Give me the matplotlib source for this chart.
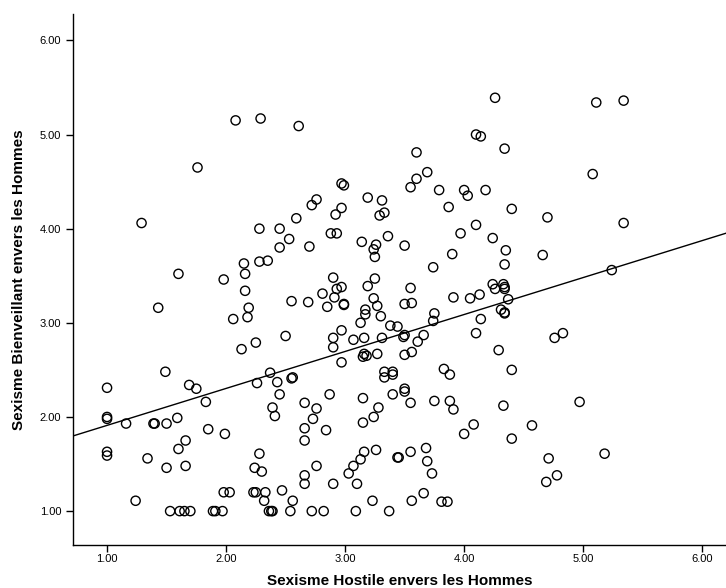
import numpy as np
import matplotlib
matplotlib.use("Agg")
import matplotlib.pyplot as plt

plt.rcParams['font.family'] = ['Liberation Sans', 'DejaVu Sans']

hostile = [
    4.26, 2.08, 2.29, 2.61, 5.11, 5.34, 1.76, 1.29, 2.97, 2.99,
    2.76, 2.72, 3.19, 3.31, 2.97, 2.92, 3.33, 3.29, 2.59, 2.28,
    2.45, 2.53, 2.88, 2.93, 3.36, 3.14, 3.26, 2.45, 2.70, 3.24,
    4.10, 4.14, 4.34, 3.60, 3.69, 3.60, 3.55, 3.79, 4.00, 4.03,
    4.18, 3.87, 4.40, 4.70, 4.10, 3.97, 4.24, 3.50, 4.35, 5.08,
    5.34, 1.60, 1.98, 2.15, 2.16, 2.16, 1.43, 2.06, 2.13, 1.49,
    1.00, 1.69, 1.75, 3.25, 2.28, 2.35, 2.90, 3.25, 2.97, 2.93,
    3.19, 2.81, 2.91, 3.24, 2.55, 2.69, 2.99, 2.99, 2.85, 3.27,
    3.17, 3.17, 2.19, 2.18, 3.30, 3.13, 3.38, 3.44, 2.97, 2.90,
    3.07, 3.16, 3.31, 2.50, 2.25, 2.90, 3.16, 3.18, 3.15, 3.27,
    2.97, 2.37, 2.26, 2.43, 2.55, 2.56, 3.33, 3.33, 3.40, 3.40,
    3.90, 3.74, 4.34, 4.66, 3.55, 3.50, 3.56, 3.91, 4.05, 4.13,
    4.24, 4.26, 4.33, 4.34, 4.34, 4.37, 4.31, 4.34, 4.34, 3.75,
    3.74, 4.14, 3.50, 3.49, 3.66, 3.61, 4.10, 4.76, 3.56, 3.50,
    4.29, 3.83, 3.88, 4.40, 3.50, 5.24, 4.83, 1.83, 1.00, 1.00,
    1.16, 1.39, 1.40, 1.50, 1.59, 1.85, 1.99, 1.66, 1.60, 1.00,
    1.00, 1.34, 1.50, 1.66, 1.98, 2.03, 1.24, 1.53, 1.61, 1.65,
    1.70, 1.89, 1.91, 1.97, 2.45, 2.87, 2.39, 2.41, 2.66, 2.76,
    2.73, 2.66, 2.84, 2.66, 3.15, 3.28, 3.24, 3.15, 3.40, 2.28,
    2.24, 2.30, 2.76, 2.66, 2.66, 2.90, 3.16, 3.26, 3.13, 3.07,
    3.03, 3.10, 3.44, 2.23, 2.25, 2.33, 2.47, 2.32, 2.56, 2.36,
    2.38, 2.39, 2.54, 2.72, 2.82, 3.09, 3.23, 3.37, 3.50, 3.55,
    3.75, 3.88, 3.91, 4.33, 4.08, 4.00, 4.40, 4.57, 3.45, 3.55,
    3.68, 3.69, 3.73, 4.71, 4.69, 4.78, 3.56, 3.66, 3.81, 3.86,
    4.97, 5.18,
]
bienveillant = [
    5.39, 5.15, 5.17, 5.09, 5.34, 5.36, 4.65, 4.06, 4.48, 4.46,
    4.31, 4.25, 4.33, 4.30, 4.22, 4.15, 4.17, 4.14, 4.11, 4.00,
    4.00, 3.89, 3.95, 3.95, 3.92, 3.86, 3.83, 3.80, 3.81, 3.78,
    5.00, 4.98, 4.85, 4.81, 4.60, 4.53, 4.44, 4.41, 4.41, 4.35,
    4.41, 4.23, 4.21, 4.12, 4.04, 3.95, 3.90, 3.82, 3.77, 4.58,
    4.06, 3.52, 3.46, 3.63, 3.52, 3.34, 3.16, 3.04, 2.72, 2.48,
    2.31, 2.34, 2.30, 3.70, 3.65, 3.66, 3.48, 3.47, 3.38, 3.36,
    3.39, 3.31, 3.27, 3.26, 3.23, 3.22, 3.20, 3.19, 3.17, 3.18,
    3.14, 3.09, 3.16, 3.06, 3.07, 3.00, 2.97, 2.96, 2.92, 2.84,
    2.82, 2.84, 2.84, 2.86, 2.79, 2.74, 2.67, 2.65, 2.64, 2.67,
    2.58, 2.47, 2.36, 2.37, 2.41, 2.42, 2.48, 2.42, 2.48, 2.45,
    3.73, 3.59, 3.62, 3.72, 3.37, 3.20, 3.21, 3.27, 3.26, 3.30,
    3.41, 3.36, 3.41, 3.38, 3.36, 3.25, 3.14, 3.11, 3.10, 3.10,
    3.02, 3.04, 2.87, 2.85, 2.87, 2.80, 2.89, 2.84, 2.69, 2.66,
    2.71, 2.51, 2.45, 2.50, 2.30, 3.56, 2.89, 2.16, 2.00, 1.98,
    1.93, 1.93, 1.93, 1.93, 1.99, 1.87, 1.82, 1.75, 1.66, 1.63,
    1.59, 1.56, 1.46, 1.48, 1.20, 1.20, 1.11, 1.00, 1.00, 1.00,
    1.00, 1.00, 1.00, 1.00, 2.24, 2.24, 2.10, 2.01, 2.15, 2.09,
    1.98, 1.88, 1.86, 1.75, 2.20, 2.10, 2.00, 1.94, 2.24, 1.61,
    1.46, 1.42, 1.48, 1.38, 1.29, 1.29, 1.63, 1.65, 1.55, 1.48,
    1.40, 1.29, 1.57, 1.20, 1.20, 1.20, 1.22, 1.11, 1.11, 1.00,
    1.00, 1.00, 1.00, 1.00, 1.00, 1.00, 1.11, 1.00, 2.27, 2.15,
    2.17, 2.17, 2.08, 2.12, 1.92, 1.82, 1.77, 1.91, 1.57, 1.63,
    1.67, 1.53, 1.40, 1.56, 1.31, 1.38, 1.11, 1.19, 1.10, 1.10,
    2.16, 1.61,
]

tick_values = [1, 2, 3, 4, 5, 6]
tick_labels = ["1.00", "2.00", "3.00", "4.00", "5.00", "6.00"]
x_label = "Sexisme Hostile envers les Hommes"
y_label = "Sexisme Bienveillant envers les Hommes"

x = np.array(hostile)
y = np.array(bienveillant)

fig = plt.figure(figsize=(7.26, 5.88), dpi=100)
ax = fig.add_axes([73/726, 1 - 545/588, 1 - 73/726, (545 - 14)/588])

ax.scatter(x, y, s=44, facecolors='none', edgecolors='black', linewidths=1.0, zorder=3)

slope, intercept = np.polyfit(x, y, 1)
xlim = (0.714, 6.2)
xs = np.array(xlim)
ax.plot(xs, intercept + slope * xs, color='black', linewidth=1.0, zorder=2)

ax.set_xlim(*xlim)
ax.set_ylim(0.64, 6.28)
ax.set_xticks(tick_values)
ax.set_xticklabels(tick_labels)
ax.set_yticks(tick_values)
ax.set_yticklabels(tick_labels)
ax.tick_params(axis='both', direction='out', length=5, width=1, labelsize=8, colors='black')
ax.tick_params(axis='x', pad=1.5)
for s in ['top', 'right']:
    ax.spines[s].set_visible(False)
for s in ['left', 'bottom']:
    ax.spines[s].set_linewidth(1.0)

ax.set_xlabel(x_label, fontsize=11, fontweight='bold', labelpad=7)
ax.set_ylabel(y_label, fontsize=11, fontweight='bold', labelpad=10)

fig.savefig("out.png", dpi=100)
